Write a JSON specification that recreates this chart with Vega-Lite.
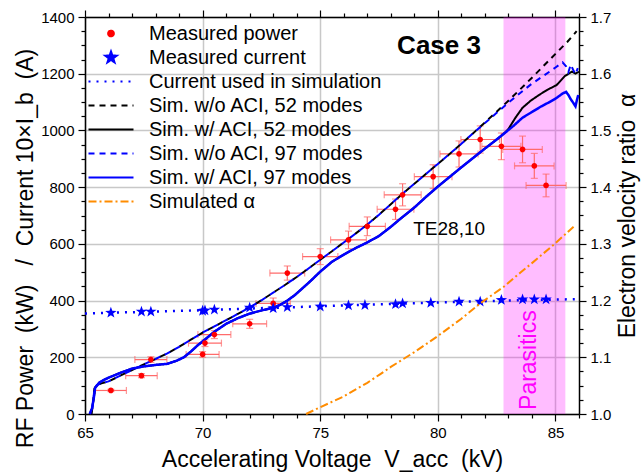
{
  "$schema": "https://vega.github.io/schema/vega-lite/v6.json",
  "width": 494,
  "height": 397,
  "autosize": "none",
  "padding": {"left": 85, "top": 17, "right": 63, "bottom": 61},
  "background": "white",
  "config": {
    "font": "Liberation Sans",
    "view": {"stroke": null},
    "axis": {
      "domainColor": "black", "domainWidth": 1.5,
      "tickColor": "black", "tickWidth": 1.2,
      "labelFont": "Liberation Sans", "labelFontSize": 15, "labelColor": "black",
      "titleFont": "Liberation Sans", "titleFontSize": 23, "titleFontWeight": "normal", "titleColor": "black",
      "gridColor": "#c8c8c8", "gridWidth": 1.5, "labelOverlap": false, "labelFlush": false
    },
    "legend": {"symbolStrokeWidth": 2, "symbolOpacity": 1}
  },
  "datasets": {
    "band": [{"start": 82.79, "end": 85.42}],
    "power": [
      {"x": 66.1, "y": 83, "xlo": 65.44, "xhi": 66.76, "ylo": 79, "yhi": 87},
      {"x": 67.4, "y": 135, "xlo": 66.73, "xhi": 68.07, "ylo": 128, "yhi": 142},
      {"x": 67.8, "y": 192, "xlo": 67.12, "xhi": 68.48, "ylo": 182, "yhi": 202},
      {"x": 70.0, "y": 210, "xlo": 69.3, "xhi": 70.7, "ylo": 200, "yhi": 220},
      {"x": 70.1, "y": 250, "xlo": 69.4, "xhi": 70.8, "ylo": 238, "yhi": 262},
      {"x": 70.5, "y": 280, "xlo": 69.8, "xhi": 71.2, "ylo": 266, "yhi": 294},
      {"x": 72.0, "y": 318, "xlo": 71.28, "xhi": 72.72, "ylo": 302, "yhi": 334},
      {"x": 73.0, "y": 390, "xlo": 72.27, "xhi": 73.73, "ylo": 371, "yhi": 409},
      {"x": 73.6, "y": 497, "xlo": 72.86, "xhi": 74.34, "ylo": 472, "yhi": 522},
      {"x": 75.0, "y": 555, "xlo": 74.25, "xhi": 75.75, "ylo": 527, "yhi": 583},
      {"x": 76.2, "y": 614, "xlo": 75.44, "xhi": 76.96, "ylo": 583, "yhi": 645},
      {"x": 77.0, "y": 662, "xlo": 76.23, "xhi": 77.77, "ylo": 629, "yhi": 695},
      {"x": 78.2, "y": 722, "xlo": 77.42, "xhi": 78.98, "ylo": 686, "yhi": 758},
      {"x": 78.5, "y": 773, "xlo": 77.72, "xhi": 79.29, "ylo": 734, "yhi": 812},
      {"x": 79.8, "y": 837, "xlo": 79.0, "xhi": 80.6, "ylo": 795, "yhi": 879},
      {"x": 80.9, "y": 917, "xlo": 80.09, "xhi": 81.71, "ylo": 871, "yhi": 963},
      {"x": 81.8, "y": 968, "xlo": 80.98, "xhi": 82.62, "ylo": 920, "yhi": 1016},
      {"x": 82.7, "y": 944, "xlo": 81.87, "xhi": 83.53, "ylo": 897, "yhi": 991},
      {"x": 83.6, "y": 933, "xlo": 82.76, "xhi": 84.44, "ylo": 886, "yhi": 980},
      {"x": 84.1, "y": 875, "xlo": 83.26, "xhi": 84.94, "ylo": 831, "yhi": 919},
      {"x": 84.6, "y": 806, "xlo": 83.75, "xhi": 85.45, "ylo": 766, "yhi": 846}
    ],
    "current": [
      {"x": 66.1, "y": 357}, {"x": 67.4, "y": 361}, {"x": 67.8, "y": 361}, {"x": 70.0, "y": 364},
      {"x": 70.1, "y": 365}, {"x": 70.5, "y": 368}, {"x": 72.0, "y": 375}, {"x": 73.0, "y": 373},
      {"x": 73.6, "y": 377}, {"x": 75.0, "y": 379}, {"x": 76.2, "y": 383}, {"x": 76.9, "y": 384},
      {"x": 78.2, "y": 387}, {"x": 78.5, "y": 390}, {"x": 79.7, "y": 392}, {"x": 80.9, "y": 396},
      {"x": 81.8, "y": 396}, {"x": 82.7, "y": 402}, {"x": 83.6, "y": 404}, {"x": 84.1, "y": 404},
      {"x": 84.6, "y": 404}
    ],
    "cur": [
      {"x": 65, "y": 354}, {"x": 66, "y": 357}, {"x": 68, "y": 361}, {"x": 70, "y": 366},
      {"x": 72, "y": 372}, {"x": 74, "y": 377}, {"x": 76, "y": 383}, {"x": 78, "y": 388},
      {"x": 80, "y": 393}, {"x": 82, "y": 398}, {"x": 84, "y": 402}, {"x": 86, "y": 405}
    ],
    "bkdash": [
      {"x": 65.28, "y": 0}, {"x": 65.35, "y": 45}, {"x": 65.4, "y": 90}, {"x": 65.5, "y": 102},
      {"x": 65.7, "y": 108}, {"x": 66, "y": 115}, {"x": 66.5, "y": 135}, {"x": 67, "y": 155},
      {"x": 67.5, "y": 175}, {"x": 68, "y": 194}, {"x": 68.5, "y": 214}, {"x": 69, "y": 237},
      {"x": 69.5, "y": 262}, {"x": 70, "y": 287}, {"x": 70.5, "y": 309}, {"x": 71, "y": 331},
      {"x": 71.5, "y": 353}, {"x": 72, "y": 376}, {"x": 72.5, "y": 401}, {"x": 73, "y": 428},
      {"x": 73.5, "y": 455}, {"x": 74, "y": 483}, {"x": 74.5, "y": 513}, {"x": 75, "y": 544},
      {"x": 75.5, "y": 574}, {"x": 76, "y": 605}, {"x": 76.5, "y": 636}, {"x": 77, "y": 668},
      {"x": 77.5, "y": 703}, {"x": 78, "y": 740}, {"x": 78.5, "y": 777}, {"x": 79, "y": 812},
      {"x": 79.5, "y": 847}, {"x": 80, "y": 882}, {"x": 80.5, "y": 917}, {"x": 81, "y": 953},
      {"x": 81.5, "y": 990}, {"x": 82, "y": 1028}, {"x": 82.5, "y": 1066}, {"x": 83, "y": 1105},
      {"x": 83.5, "y": 1145}, {"x": 84, "y": 1186}, {"x": 84.5, "y": 1228}, {"x": 85, "y": 1270},
      {"x": 85.5, "y": 1312}, {"x": 85.9, "y": 1350}
    ],
    "bldash": [
      {"x": 65.28, "y": 0}, {"x": 65.35, "y": 45}, {"x": 65.4, "y": 90}, {"x": 65.5, "y": 102},
      {"x": 65.7, "y": 108}, {"x": 66, "y": 115}, {"x": 66.5, "y": 135}, {"x": 67, "y": 155},
      {"x": 67.5, "y": 175}, {"x": 68, "y": 194}, {"x": 68.5, "y": 214}, {"x": 69, "y": 237},
      {"x": 69.5, "y": 262}, {"x": 70, "y": 287}, {"x": 70.5, "y": 309}, {"x": 71, "y": 331},
      {"x": 71.5, "y": 353}, {"x": 72, "y": 376}, {"x": 72.5, "y": 401}, {"x": 73, "y": 428},
      {"x": 73.5, "y": 455}, {"x": 74, "y": 483}, {"x": 74.5, "y": 513}, {"x": 75, "y": 544},
      {"x": 75.5, "y": 574}, {"x": 76, "y": 605}, {"x": 76.5, "y": 636}, {"x": 77, "y": 668},
      {"x": 77.5, "y": 703}, {"x": 78, "y": 740}, {"x": 78.5, "y": 777}, {"x": 79, "y": 812},
      {"x": 79.5, "y": 847}, {"x": 80, "y": 882}, {"x": 80.5, "y": 917}, {"x": 81, "y": 953},
      {"x": 81.5, "y": 990}, {"x": 82, "y": 1026}, {"x": 82.5, "y": 1062}, {"x": 83, "y": 1098},
      {"x": 83.5, "y": 1132}, {"x": 84, "y": 1165}, {"x": 84.5, "y": 1193}, {"x": 85, "y": 1222},
      {"x": 85.3, "y": 1240}, {"x": 85.45, "y": 1226}, {"x": 85.55, "y": 1206}, {"x": 85.65, "y": 1232},
      {"x": 85.75, "y": 1214}, {"x": 85.85, "y": 1198}, {"x": 85.95, "y": 1220}
    ],
    "bksolid": [
      {"x": 65.2, "y": 0}, {"x": 65.3, "y": 20}, {"x": 65.38, "y": 60}, {"x": 65.43, "y": 92},
      {"x": 65.6, "y": 110}, {"x": 65.8, "y": 120}, {"x": 66, "y": 128}, {"x": 66.5, "y": 145},
      {"x": 67, "y": 160}, {"x": 67.5, "y": 168}, {"x": 68, "y": 173}, {"x": 68.5, "y": 177},
      {"x": 68.9, "y": 188}, {"x": 69.2, "y": 200}, {"x": 69.5, "y": 220}, {"x": 69.8, "y": 243},
      {"x": 70, "y": 256}, {"x": 70.5, "y": 290}, {"x": 71, "y": 318}, {"x": 71.5, "y": 338},
      {"x": 72, "y": 354}, {"x": 72.5, "y": 365}, {"x": 73, "y": 375}, {"x": 73.3, "y": 385},
      {"x": 73.6, "y": 400}, {"x": 73.9, "y": 418}, {"x": 74.2, "y": 440}, {"x": 74.6, "y": 470},
      {"x": 75, "y": 502}, {"x": 75.5, "y": 537}, {"x": 76, "y": 562}, {"x": 76.5, "y": 585},
      {"x": 77, "y": 605}, {"x": 77.5, "y": 628}, {"x": 78, "y": 660}, {"x": 78.4, "y": 688},
      {"x": 79, "y": 728}, {"x": 79.5, "y": 766}, {"x": 80, "y": 802}, {"x": 80.5, "y": 836},
      {"x": 81, "y": 870}, {"x": 81.5, "y": 903}, {"x": 82, "y": 936}, {"x": 82.5, "y": 968},
      {"x": 82.8, "y": 988}, {"x": 83, "y": 1005}, {"x": 83.3, "y": 1045}, {"x": 83.6, "y": 1080},
      {"x": 83.95, "y": 1105}, {"x": 84.3, "y": 1125}, {"x": 84.65, "y": 1143}, {"x": 85.05, "y": 1160},
      {"x": 85.4, "y": 1192}, {"x": 85.7, "y": 1207}, {"x": 85.85, "y": 1200}, {"x": 86, "y": 1207}
    ],
    "blsolid": [
      {"x": 65.2, "y": 0}, {"x": 65.3, "y": 20}, {"x": 65.38, "y": 60}, {"x": 65.43, "y": 92},
      {"x": 65.6, "y": 110}, {"x": 65.8, "y": 120}, {"x": 66, "y": 128}, {"x": 66.5, "y": 145},
      {"x": 67, "y": 160}, {"x": 67.5, "y": 168}, {"x": 68, "y": 173}, {"x": 68.5, "y": 177},
      {"x": 68.9, "y": 188}, {"x": 69.2, "y": 200}, {"x": 69.5, "y": 220}, {"x": 69.8, "y": 243},
      {"x": 70, "y": 256}, {"x": 70.5, "y": 290}, {"x": 71, "y": 318}, {"x": 71.5, "y": 338},
      {"x": 72, "y": 354}, {"x": 72.5, "y": 365}, {"x": 73, "y": 375}, {"x": 73.3, "y": 385},
      {"x": 73.6, "y": 400}, {"x": 73.9, "y": 418}, {"x": 74.2, "y": 440}, {"x": 74.6, "y": 470},
      {"x": 75, "y": 502}, {"x": 75.5, "y": 537}, {"x": 76, "y": 562}, {"x": 76.5, "y": 585},
      {"x": 77, "y": 605}, {"x": 77.5, "y": 628}, {"x": 78, "y": 660}, {"x": 78.4, "y": 688},
      {"x": 79, "y": 728}, {"x": 79.5, "y": 766}, {"x": 80, "y": 802}, {"x": 80.5, "y": 836},
      {"x": 81, "y": 870}, {"x": 81.5, "y": 903}, {"x": 82, "y": 936}, {"x": 82.5, "y": 968},
      {"x": 82.8, "y": 988}, {"x": 83.2, "y": 1015}, {"x": 83.6, "y": 1045}, {"x": 84, "y": 1065},
      {"x": 84.4, "y": 1085}, {"x": 84.7, "y": 1098}, {"x": 85, "y": 1112}, {"x": 85.3, "y": 1130},
      {"x": 85.45, "y": 1136}, {"x": 85.55, "y": 1125}, {"x": 85.65, "y": 1110}, {"x": 85.75, "y": 1098},
      {"x": 85.85, "y": 1085}, {"x": 85.92, "y": 1110}, {"x": 85.97, "y": 1125}
    ],
    "alpha": [
      {"x": 74.4, "a": 1.0}, {"x": 75, "a": 1.012}, {"x": 76, "a": 1.031}, {"x": 77, "a": 1.055},
      {"x": 77.54, "a": 1.07}, {"x": 78, "a": 1.083}, {"x": 79, "a": 1.109}, {"x": 79.95, "a": 1.136},
      {"x": 81, "a": 1.168}, {"x": 81.8, "a": 1.195}, {"x": 82.79, "a": 1.224}, {"x": 83.5, "a": 1.249},
      {"x": 84, "a": 1.266}, {"x": 84.91, "a": 1.298}, {"x": 85.77, "a": 1.33}
    ]
  },
  "layer": [
    {
      "encoding": {
        "x": {"field": "x", "type": "quantitative", "title": "Accelerating Voltage\u00a0\u00a0V_acc\u00a0\u00a0(kV)",
          "scale": {"domain": [65, 86], "nice": false, "zero": false},
          "axis": {
            "orient": "bottom", "title": "Accelerating Voltage\u00a0\u00a0V_acc\u00a0\u00a0(kV)",
            "values": [65,66,67,68,69,70,71,72,73,74,75,76,77,78,79,80,81,82,83,84,85,86],
            "format": "d",
            "labelExpr": "datum.value % 5 === 0 ? datum.label : ''",
            "tickSize": {"condition": {"test": "datum.value % 5 === 0", "value": 7}, "value": 4},
            "gridOpacity": {"condition": {"test": "datum.value % 5 === 0", "value": 1}, "value": 0},
            "grid": true, "labelOverlap": false, "labelFlush": false, "labelPadding": 4, "titlePadding": 8
          }},
        "y": {"field": "y", "type": "quantitative", "title": "RF Power\u00a0\u00a0(kW)\u00a0\u00a0\u00a0/\u00a0\u00a0Current 10×I_b\u00a0\u00a0(A)",
          "scale": {"domain": [0, 1400], "nice": false},
          "axis": {
            "orient": "left", "title": "RF Power\u00a0\u00a0(kW)\u00a0\u00a0\u00a0/\u00a0\u00a0Current 10×I_b\u00a0\u00a0(A)",
            "values": [0,50,100,150,200,250,300,350,400,450,500,550,600,650,700,750,800,850,900,950,1000,1050,1100,1150,1200,1250,1300,1350,1400],
            "format": "d",
            "labelExpr": "datum.value % 200 === 0 ? datum.label : ''",
            "tickSize": {"condition": {"test": "datum.value % 200 === 0", "value": 7}, "value": 4},
            "gridOpacity": {"condition": {"test": "datum.value % 200 === 0", "value": 1}, "value": 0},
            "grid": true, "labelOverlap": false, "labelFlush": false, "labelPadding": 4, "titlePadding": 3, "titleY": 231
          }}
      },
      "layer": [
        {
          "data": {"name": "band"},
          "mark": {"type": "rect", "color": "#ff00ff", "opacity": 0.26},
          "encoding": {
            "x": {"field": "start", "type": "quantitative", "title": "Accelerating Voltage\u00a0\u00a0V_acc\u00a0\u00a0(kV)",
              "scale": {"domain": [65, 86], "nice": false, "zero": false},
              "axis": {
                "orient": "bottom", "title": "Accelerating Voltage\u00a0\u00a0V_acc\u00a0\u00a0(kV)",
                "values": [65,66,67,68,69,70,71,72,73,74,75,76,77,78,79,80,81,82,83,84,85,86],
                "format": "d",
                "labelExpr": "datum.value % 5 === 0 ? datum.label : ''",
                "tickSize": {"condition": {"test": "datum.value % 5 === 0", "value": 7}, "value": 4},
                "gridOpacity": {"condition": {"test": "datum.value % 5 === 0", "value": 1}, "value": 0},
                "grid": true, "labelOverlap": false, "labelFlush": false, "labelPadding": 4, "titlePadding": 8
              }},
            "x2": {"field": "end"},
            "y": null
          }
        },
        {
          "data": {"name": "power"},
          "mark": {"type": "errorbar", "ticks": {"size": 7}, "color": "#ff6b6b", "thickness": 1.2},
          "encoding": {
            "x": {"field": "xlo", "type": "quantitative", "title": "Accelerating Voltage\u00a0\u00a0V_acc\u00a0\u00a0(kV)",
              "scale": {"domain": [65, 86], "nice": false, "zero": false},
              "axis": {
                "orient": "bottom", "title": "Accelerating Voltage\u00a0\u00a0V_acc\u00a0\u00a0(kV)",
                "values": [65,66,67,68,69,70,71,72,73,74,75,76,77,78,79,80,81,82,83,84,85,86],
                "format": "d",
                "labelExpr": "datum.value % 5 === 0 ? datum.label : ''",
                "tickSize": {"condition": {"test": "datum.value % 5 === 0", "value": 7}, "value": 4},
                "gridOpacity": {"condition": {"test": "datum.value % 5 === 0", "value": 1}, "value": 0},
                "grid": true, "labelOverlap": false, "labelFlush": false, "labelPadding": 4, "titlePadding": 8
              }},
            "x2": {"field": "xhi"}
          }
        },
        {
          "data": {"name": "power"},
          "mark": {"type": "errorbar", "ticks": {"size": 7}, "color": "#ff6b6b", "thickness": 1.2},
          "encoding": {
            "y": {"field": "ylo", "type": "quantitative", "title": "RF Power\u00a0\u00a0(kW)\u00a0\u00a0\u00a0/\u00a0\u00a0Current 10×I_b\u00a0\u00a0(A)",
              "scale": {"domain": [0, 1400], "nice": false},
              "axis": {
                "orient": "left", "title": "RF Power\u00a0\u00a0(kW)\u00a0\u00a0\u00a0/\u00a0\u00a0Current 10×I_b\u00a0\u00a0(A)",
                "values": [0,50,100,150,200,250,300,350,400,450,500,550,600,650,700,750,800,850,900,950,1000,1050,1100,1150,1200,1250,1300,1350,1400],
                "format": "d",
                "labelExpr": "datum.value % 200 === 0 ? datum.label : ''",
                "tickSize": {"condition": {"test": "datum.value % 200 === 0", "value": 7}, "value": 4},
                "gridOpacity": {"condition": {"test": "datum.value % 200 === 0", "value": 1}, "value": 0},
                "grid": true, "labelOverlap": false, "labelFlush": false, "labelPadding": 4, "titlePadding": 3, "titleY": 231
              }},
            "y2": {"field": "yhi"}
          }
        },
        {
          "data": {"name": "cur"},
          "mark": {"type": "line", "strokeWidth": 2.5},
          "encoding": {
            "color": {"datum": "Current used in simulation", "type": "nominal",
              "scale": {"domain": ["Measured power","Measured current","Current used in simulation","Sim. w/o ACI, 52 modes","Sim. w/ ACI, 52 modes","Sim. w/o ACI, 97 modes","Sim. w/ ACI, 97 modes","Simulated α"],
                "range": ["#ff0000","#0000ff","#0000ff","#000000","#000000","#0000ff","#0000ff","#ff8c00"]},
              "legend": {"title": null, "orient": "none", "legendX": 3, "legendY": 6.5, "symbolSize": 225, "symbolStrokeWidth": 2, "labelFontSize": 20, "labelFont": "Liberation Sans", "labelColor": "black", "labelOffset": 28, "symbolOffset": 13, "rowPadding": 4, "padding": 0, "labelLimit": 400}},
            "strokeDash": {"datum": "Current used in simulation", "type": "nominal",
              "scale": {"domain": ["Measured power","Measured current","Current used in simulation","Sim. w/o ACI, 52 modes","Sim. w/ ACI, 52 modes","Sim. w/o ACI, 97 modes","Sim. w/ ACI, 97 modes","Simulated α"],
                "range": [[1,0],[1,0],[2,6],[6,5],[1,0],[6,5],[1,0],[8,3,2,3]]},
              "legend": {"title": null, "orient": "none", "legendX": 3, "legendY": 6.5}}
          }
        },
        {
          "data": {"name": "bkdash"},
          "mark": {"type": "line", "strokeWidth": 2},
          "encoding": {
            "color": {"datum": "Sim. w/o ACI, 52 modes", "type": "nominal"},
            "strokeDash": {"datum": "Sim. w/o ACI, 52 modes", "type": "nominal"}
          }
        },
        {
          "data": {"name": "bksolid"},
          "mark": {"type": "line", "strokeWidth": 2},
          "encoding": {
            "color": {"datum": "Sim. w/ ACI, 52 modes", "type": "nominal"},
            "strokeDash": {"datum": "Sim. w/ ACI, 52 modes", "type": "nominal"}
          }
        },
        {
          "data": {"name": "bldash"},
          "mark": {"type": "line", "strokeWidth": 2, "strokeDashOffset": 5.5},
          "encoding": {
            "color": {"datum": "Sim. w/o ACI, 97 modes", "type": "nominal"},
            "strokeDash": {"datum": "Sim. w/o ACI, 97 modes", "type": "nominal"}
          }
        },
        {
          "data": {"name": "blsolid"},
          "mark": {"type": "line", "strokeWidth": 2.5},
          "encoding": {
            "color": {"datum": "Sim. w/ ACI, 97 modes", "type": "nominal"},
            "strokeDash": {"datum": "Sim. w/ ACI, 97 modes", "type": "nominal"}
          }
        },
        {
          "data": {"name": "power"},
          "mark": {"type": "point", "filled": true, "size": 225, "opacity": 1, "strokeWidth": 0},
          "encoding": {
            "color": {"datum": "Measured power", "type": "nominal"},
            "shape": {"datum": "Measured power", "type": "nominal",
              "scale": {"domain": ["Measured power","Measured current","Current used in simulation","Sim. w/o ACI, 52 modes","Sim. w/ ACI, 52 modes","Sim. w/o ACI, 97 modes","Sim. w/ ACI, 97 modes","Simulated α"],
                "range": ["M-0.38,0A0.38,0.38,0,1,1,0.38,0A0.38,0.38,0,1,1,-0.38,0Z",
                  "M0,-0.8L0.188,-0.259L0.761,-0.247L0.304,0.099L0.47,0.647L0,0.32L-0.47,0.647L-0.304,0.099L-0.761,-0.247L-0.188,-0.259Z",
                  "M-3,0H3","M-3,0H3","M-3,0H3","M-3,0H3","M-3,0H3","M-3,0H3"]},
              "legend": {"title": null, "orient": "none", "legendX": 3, "legendY": 6.5}}
          }
        },
        {
          "data": {"name": "current"},
          "mark": {"type": "point", "filled": true, "size": 225, "opacity": 1, "strokeWidth": 0},
          "encoding": {
            "color": {"datum": "Measured current", "type": "nominal"},
            "shape": {"datum": "Measured current", "type": "nominal"}
          }
        },
        {
          "data": {"values": [{"x": 80.05, "y": 1298, "label": "Case 3"}]},
          "mark": {"type": "text", "fontSize": 26, "fontWeight": "bold", "font": "Liberation Sans", "color": "black", "baseline": "middle"},
          "encoding": {"text": {"field": "label"}}
        },
        {
          "data": {"values": [{"x": 80.48, "y": 652, "label": "TE28,10"}]},
          "mark": {"type": "text", "fontSize": 19, "font": "Liberation Sans", "color": "black", "baseline": "middle"},
          "encoding": {"text": {"field": "label"}}
        },
        {
          "data": {"values": [{"x": 83.88, "y": 190, "label": "Parasitics"}]},
          "mark": {"type": "text", "fontSize": 23, "font": "Liberation Sans", "color": "#ff00ff", "angle": 270, "baseline": "middle", "align": "center"},
          "encoding": {"text": {"field": "label"}}
        }
      ]
    },
    {
      "data": {"name": "alpha"},
      "mark": {"type": "line", "strokeWidth": 2},
      "encoding": {
        "x": {"field": "x", "type": "quantitative", "scale": {"domain": [65, 86], "nice": false, "zero": false},
          "axis": {
            "orient": "top", "title": null, "labels": false, "grid": false,
            "values": [65,66,67,68,69,70,71,72,73,74,75,76,77,78,79,80,81,82,83,84,85,86],
            "tickSize": {"condition": {"test": "datum.value % 5 === 0", "value": 7}, "value": 4}
          }},
        "y": {"field": "a", "type": "quantitative", "scale": {"domain": [1, 1.7], "nice": false, "zero": false},
          "axis": {
            "orient": "right", "title": "Electron velocity ratio\u00a0\u00a0α",
            "values": [1,1.025,1.05,1.075,1.1,1.125,1.15,1.175,1.2,1.225,1.25,1.275,1.3,1.325,1.35,1.375,1.4,1.425,1.45,1.475,1.5,1.525,1.55,1.575,1.6,1.625,1.65,1.675,1.7],
            "labelExpr": "abs(datum.value * 10 - round(datum.value * 10)) < 0.001 ? format(datum.value, '.1f') : ''",
            "tickSize": {"condition": {"test": "abs(datum.value * 10 - round(datum.value * 10)) < 0.001", "value": 7}, "value": 4},
            "grid": false, "labelOverlap": false, "labelFlush": false, "labelPadding": 4,
            "titleAngle": 270, "titleBaseline": "top", "titlePadding": 6
          }},
        "color": {"datum": "Simulated α", "type": "nominal"},
        "strokeDash": {"datum": "Simulated α", "type": "nominal"}
      }
    }
  ],
  "resolve": {"scale": {"y": "independent"}, "axis": {"x": "independent"}}
}
